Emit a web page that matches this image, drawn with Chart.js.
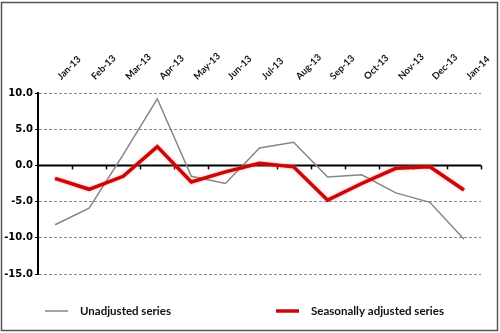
<!DOCTYPE html>
<html lang="en">
<head>
    <meta charset="UTF-8">
    <title>Unadjusted vs seasonally adjusted</title>
    <script src="https://cdn.jsdelivr.net/npm/chart.js"></script>
    <style>
        body { margin: 0; background: #fff; }
        #wrap { width: 500px; height: 333px; position: relative; }
    </style>
</head>
<body>
    <div id="wrap">
        <canvas id="myChart" width="500" height="333"></canvas>
    </div>

    <script>
        // months (category axis, labels on top)
        const months = ['Jan-13','Feb-13','Mar-13','Apr-13','May-13','Jun-13','Jul-13',
                        'Aug-13','Sep-13','Oct-13','Nov-13','Dec-13','Jan-14'];

        // values
        const unadjusted = [-8.2, -5.9, 1.5, 9.2, -1.5, -2.5, 2.4, 3.2, -1.6, -1.3, -3.8, -5.1, -10.2];
        const seasAdjusted = [-1.8, -3.3, -1.5, 2.6, -2.3, -0.9, 0.3, -0.2, -4.8, -2.5, -0.4, -0.2, -3.4];

        const yTicks = [10, 5, 0, -5, -10, -15];

        const GRAY = '#868686';
        const RED = '#c80808';

        // white background + outer frame
        const framePlugin = {
            id: 'frame',
            beforeDraw(chart) {
                const c = chart.ctx;
                c.save();
                c.fillStyle = '#fff';
                c.fillRect(0, 0, chart.width, chart.height);
                c.restore();
            },
            afterDraw(chart) {
                const c = chart.ctx;
                c.save();
                c.strokeStyle = '#555';
                c.lineWidth = 1.5;
                c.strokeRect(1.5, 2.5, 496, 328);
                c.restore();
            }
        };

        // solid zero line with the little ticks between months
        const zeroLine = {
            id: 'zeroLine',
            beforeDatasetsDraw(chart) {
                const x = chart.scales.x, y = chart.scales.y;
                const c = chart.ctx;
                const y0 = y.getPixelForValue(0);
                c.save();
                c.strokeStyle = '#000';
                c.lineWidth = 2;
                c.beginPath();
                c.moveTo(x.left, y0);
                c.lineTo(x.right, y0);
                c.stroke();
                c.lineWidth = 1.5;
                for (let i = 1; i <= months.length; i++) {
                    const px = Math.round(x.getPixelForValue(i - 0.5)) + 0.5;
                    c.beginPath();
                    c.moveTo(px, y0);
                    c.lineTo(px, y0 + 4);
                    c.stroke();
                }
                c.restore();
            }
        };

        // legend drawn from the datasets, spread like the original
        const spreadLegend = {
            id: 'spreadLegend',
            afterDraw(chart) {
                const c = chart.ctx;
                const starts = [45, 276];
                const ly = 311;
                c.save();
                c.font = 'bold 11.5px Lato';
                c.textBaseline = 'middle';
                c.fillStyle = '#111';
                chart.data.datasets.forEach((ds, i) => {
                    const x0 = starts[i];
                    c.strokeStyle = ds.borderColor;
                    c.lineWidth = ds.borderWidth;
                    c.beginPath();
                    c.moveTo(x0, ly);
                    c.lineTo(x0 + 23, ly);
                    c.stroke();
                    c.fillText(ds.label, x0 + 35, ly);
                });
                c.restore();
            }
        };

        // soft pink halo on the red line
        const glow = {
            id: 'glow',
            beforeDatasetDraw(chart, args) {
                if (args.index === 1) {
                    chart.ctx.save();
                    chart.ctx.shadowColor = 'rgba(255,110,110,0.7)';
                    chart.ctx.shadowBlur = 3;
                }
            },
            afterDatasetDraw(chart, args) {
                if (args.index === 1) chart.ctx.restore();
            }
        };

        const data = {
            labels: months,
            datasets: [
                {
                    label: 'Unadjusted series',
                    data: unadjusted,
                    borderColor: GRAY,
                    borderWidth: 1.5,
                    pointRadius: 0,
                    tension: 0,
                    order: 2
                },
                {
                    label: 'Seasonally adjusted series',
                    data: seasAdjusted,
                    borderColor: RED,
                    borderWidth: 3.5,
                    pointRadius: 0,
                    tension: 0,
                    order: 1
                }
            ]
        };

        const options = {
            responsive: false,
            animation: false,
            layout: { padding: { left: 0, right: 19, top: 0, bottom: 59 } },
            plugins: {
                legend: { display: false },
                tooltip: { enabled: false }
            },
            scales: {
                x: {
                    position: 'top',
                    offset: true,
                    grid: { display: false, drawTicks: false },
                    border: { display: false },
                    ticks: {
                        autoSkip: false,
                        minRotation: 45,
                        maxRotation: 45,
                        padding: 11,
                        labelOffset: 12,
                        color: '#111',
                        font: { family: 'Lato', weight: 'bold', size: 9.5 }
                    },
                    afterFit(scale) { scale.height = 93; }
                },
                y: {
                    min: -15,
                    max: 10,
                    afterBuildTicks(scale) {
                        scale.ticks = yTicks.map(v => ({ value: v }));
                    },
                    grid: {
                        color: ctx => (ctx.tick && ctx.tick.value === 0) ? 'rgba(0,0,0,0)' : '#8a8a8a',
                        lineWidth: 1,
                        drawTicks: true,
                        tickLength: 3,
                        tickColor: '#000',
                        tickBorderDash: []
                    },
                    border: { display: true, color: '#000', width: 2, dash: [3, 2] },
                    ticks: {
                        padding: 2,
                        color: '#000',
                        font: { family: 'DejaVu Sans', weight: 'bold', size: 10 },
                        callback: v => Number(v).toFixed(1)
                    },
                    afterFit(scale) { scale.width = 38; }
                }
            }
        };

        const ctx = document.querySelector('#myChart').getContext('2d');
        new Chart(ctx, {
            type: 'line',
            data: data,
            options: options,
            plugins: [framePlugin, zeroLine, glow, spreadLegend]
        });
    </script>
</body>
</html>
